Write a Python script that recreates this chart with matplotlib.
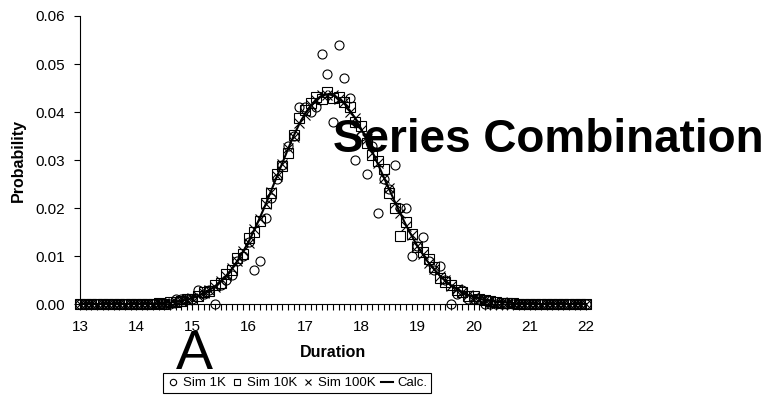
import numpy as np
import matplotlib
matplotlib.use('Agg')
import matplotlib.pyplot as plt

plt.rcParams['font.family'] = ['Liberation Sans', 'DejaVu Sans']

# durations 13.0 .. 22.0 in steps of 0.1 (category axis)
duration = np.round(np.arange(130, 221) / 10, 1)

sim_1k = [
    0, 0, 0, 0, 0, 0, 0, 0, 0, 0,
    0, 0, 0, 0, 0, 0, 0, 0.001, 0.001, 0.001,
    0.001, 0.003, 0.002, 0.003, 0.000, 0.004, 0.005, 0.006, 0.009, 0.010,
    0.013, 0.007, 0.009, 0.018, 0.022, 0.026, 0.029, 0.033, 0.035, 0.041,
    0.041, 0.040, 0.041, 0.052, 0.048, 0.038, 0.054, 0.047, 0.043, 0.030,
    0.035, 0.027, 0.033, 0.019, 0.026, 0.024, 0.029, 0.020, 0.020, 0.010,
    0.012, 0.014, 0.009, 0.007, 0.008, 0.005, 0.000, 0.002, 0.003, 0.001,
    0.001, 0.001, 0, 0, 0, 0, 0, 0, 0, 0,
    0, 0, 0, 0, 0, 0, 0, 0, 0, 0,
    0,
]

sim_10k = [
    0, 0, 0, 0, 0, 0, 0, 0, 0, 0,
    0, 0, 0, 0.0001, 0.0002, 0.0001, 0.0004, 0.0005, 0.0006, 0.0010,
    0.0011, 0.0016, 0.0024, 0.0027, 0.0040, 0.0044, 0.0063, 0.0070, 0.0095, 0.0105,
    0.0137, 0.0150, 0.0172, 0.0210, 0.0232, 0.0270, 0.0288, 0.0315, 0.0353, 0.0388,
    0.0405, 0.0418, 0.0431, 0.0428, 0.0442, 0.0430, 0.0432, 0.0420, 0.0410, 0.0380,
    0.0370, 0.0335, 0.0310, 0.0298, 0.0282, 0.0232, 0.0200, 0.0142, 0.0170, 0.0145,
    0.0118, 0.0108, 0.0093, 0.0077, 0.0054, 0.0046, 0.0040, 0.0030, 0.0026, 0.0017,
    0.0016, 0.0010, 0.0008, 0.0006, 0.0004, 0.0003, 0.0002, 0.0002, 0.0001, 0.0001,
    0.0001, 0, 0, 0, 0, 0, 0, 0, 0, 0,
    0,
]

sim_100k = [
    0, 0, 0, 0, 0, 0, 0, 0, 0, 0,
    0, 0, 0.0001, 0.0001, 0.0002, 0.0003, 0.0003, 0.0005, 0.0007, 0.0009,
    0.0012, 0.0016, 0.0023, 0.0030, 0.0036, 0.0048, 0.0058, 0.0075, 0.0089, 0.0110,
    0.0128, 0.0156, 0.0178, 0.0209, 0.0234, 0.0267, 0.0292, 0.0325, 0.0347, 0.0377,
    0.0394, 0.0415, 0.0424, 0.0436, 0.0435, 0.0436, 0.0427, 0.0420, 0.0401, 0.0387,
    0.0363, 0.0344, 0.0315, 0.0293, 0.0263, 0.0241, 0.0211, 0.0190, 0.0162, 0.0143,
    0.0120, 0.0104, 0.0085, 0.0073, 0.0058, 0.0049, 0.0038, 0.0032, 0.0024, 0.0019,
    0.0014, 0.0011, 0.0009, 0.0006, 0.0005, 0.0004, 0.0003, 0.0002, 0.0001, 0.0001,
    0.0001, 0, 0, 0, 0, 0, 0, 0, 0, 0,
    0,
]

calc = [
    0, 0, 0, 0, 0, 0, 0, 0, 0, 0,
    0, 0, 0.0001, 0.0001, 0.0002, 0.0002, 0.0003, 0.0005, 0.0007, 0.0009,
    0.0012, 0.0017, 0.0022, 0.0029, 0.0037, 0.0047, 0.0059, 0.0073, 0.0090, 0.0109,
    0.0130, 0.0154, 0.0180, 0.0207, 0.0236, 0.0265, 0.0294, 0.0323, 0.0350, 0.0375,
    0.0396, 0.0413, 0.0426, 0.0434, 0.0437, 0.0435, 0.0428, 0.0418, 0.0403, 0.0386,
    0.0365, 0.0342, 0.0317, 0.0291, 0.0265, 0.0239, 0.0213, 0.0188, 0.0164, 0.0142,
    0.0121, 0.0103, 0.0086, 0.0072, 0.0059, 0.0048, 0.0039, 0.0031, 0.0025, 0.0019,
    0.0015, 0.0011, 0.0009, 0.0007, 0.0005, 0.0004, 0.0003, 0.0002, 0.0001, 0.0001,
    0.0001, 0, 0, 0, 0, 0, 0, 0, 0, 0,
    0,
]

x_labels = [13, 14, 15, 16, 17, 18, 19, 20, 21, 22]
y_ticks = [0.00, 0.01, 0.02, 0.03, 0.04, 0.05, 0.06]

fig = plt.figure(figsize=(7.71, 3.96), dpi=100)
ax = fig.add_axes([0.1038, 0.2323, 0.6562, 0.7273])

mk = dict(linestyle='none', color='black', markerfacecolor='none',
          markeredgewidth=0.8, clip_on=False)
ax.plot(duration, sim_1k, marker='o', markersize=6.5, label='Sim 1K', **mk)
ax.plot(duration, sim_10k, marker='s', markersize=7, label='Sim 10K', **mk)
ax.plot(duration, sim_100k, marker='x', markersize=6.5, label='Sim 100K', **mk)
ax.plot(duration, calc, color='black', linewidth=1.5, label='Calc.', clip_on=False)

ax.set_xlim(13, 22)
ax.set_ylim(0, 0.06)
ax.set_yticks(y_ticks)
ax.set_yticklabels([f'{v:.2f}' for v in y_ticks])
ax.set_xticks(x_labels)
ax.set_xticklabels([str(v) for v in x_labels])
ax.set_xticks(duration, minor=True)

for s in ['top', 'right']:
    ax.spines[s].set_visible(False)
for s in ['left', 'bottom']:
    ax.spines[s].set_linewidth(0.8)

ax.tick_params(axis='y', direction='out', length=4, width=0.8, labelsize=11, pad=6.5)
ax.tick_params(axis='x', which='both', direction='out', length=4, width=0.8)
ax.tick_params(axis='x', which='major', labelsize=11, pad=7.5)

ax.set_xlabel('Duration', fontsize=11.5, fontweight='bold', labelpad=8)
ax.set_ylabel('Probability', fontsize=11.5, fontweight='bold', labelpad=7)

fig.text(333 / 771, 1 - 140 / 396, 'Series Combination', fontsize=33,
         fontweight='bold', va='center', ha='left')
fig.text(194 / 771, 1 - 355 / 396, 'A', fontsize=40, va='center', ha='center')

leg = fig.legend(loc='center', bbox_to_anchor=(297 / 771, 1 - 383 / 396), ncol=4,
                 fontsize=9.5, handlelength=0.9, handletextpad=0.3,
                 columnspacing=0.4, borderpad=0.3, borderaxespad=0,
                 markerscale=0.7, fancybox=False, framealpha=1, edgecolor='black')
leg.get_frame().set_linewidth(0.8)

fig.savefig('out.png', dpi=100)
